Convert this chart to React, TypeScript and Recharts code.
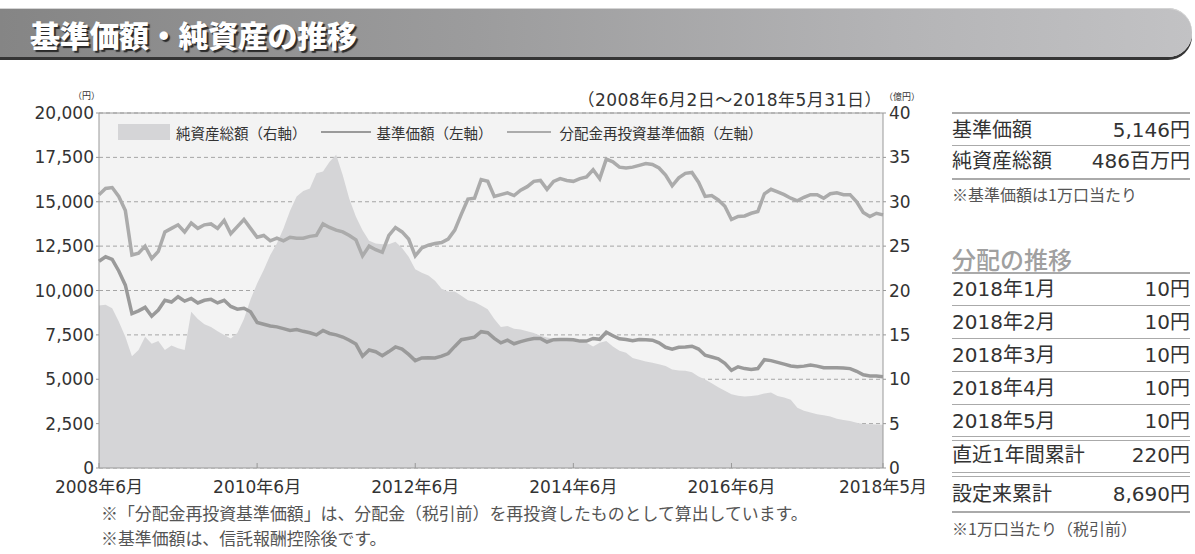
import { Area, CartesianGrid, ComposedChart, Line, ReferenceLine, XAxis, YAxis } from "recharts";

// month index 0 = 2008年6月, 119 = 2018年5月
const xTickIndex = [0, 24, 48, 72, 96, 119];
const xTickLabels = ["2008年6月", "2010年6月", "2012年6月", "2014年6月", "2016年6月", "2018年5月"];
const leftTicks = [0, 2500, 5000, 7500, 10000, 12500, 15000, 17500, 20000];
const rightTicks = [0, 5, 10, 15, 20, 25, 30, 35, 40];

// 基準価額 (円, left axis)
const navValues = [
    11650, 11900, 11750, 11100, 10300, 8700, 8850, 9050, 8550, 8900,
    9450, 9350, 9650, 9400, 9550, 9300, 9450, 9500, 9300, 9450,
    9100, 8950, 9000, 8800, 8200, 8100, 8000, 7950, 7850, 7750,
    7800, 7700, 7620, 7500, 7750, 7580, 7500, 7380, 7200, 6980,
    6300, 6650, 6550, 6330, 6560, 6820, 6700, 6400, 6050, 6200,
    6210, 6200, 6300, 6450, 6850, 7230, 7300, 7370, 7680, 7620,
    7300, 7050, 7200, 7000, 7120, 7220, 7300, 7300, 7100, 7230,
    7240, 7240, 7230, 7150, 7150, 7300, 7250, 7650, 7450, 7280,
    7240, 7170, 7240, 7230, 7200, 7050, 6800, 6700, 6800, 6820,
    6860, 6700, 6350, 6250, 6150, 5900, 5500, 5700, 5600, 5550,
    5600, 6100, 6050, 5950, 5850, 5750, 5700, 5740, 5800, 5740,
    5650, 5650, 5650, 5640, 5600, 5450, 5250, 5180, 5180, 5146,
];

// 分配金再投資基準価額 (円, left axis)
const reinvestValues = [
    15400, 15750, 15800, 15300, 14500, 12000, 12100, 12500, 11800, 12200,
    13300, 13500, 13700, 13300, 13800, 13500, 13700, 13750, 13500, 13950,
    13200, 13600, 14000, 13500, 13000, 13100, 12800, 12950, 12800, 13000,
    12950, 12950, 13050, 13100, 13750, 13550, 13400, 13300, 13100, 12850,
    11950, 12500, 12300, 12150, 13100, 13550, 13300, 12900, 11950, 12400,
    12550, 12650, 12700, 12900, 13400, 14300, 15150, 15200, 16250, 16150,
    15300, 15400, 15500, 15350, 15650, 15850, 16150, 16200, 15700, 16150,
    16300, 16200, 16150, 16300, 16400, 16800, 16300, 17400, 17250, 16950,
    16900, 16950, 17050, 17150, 17100, 16900, 16500, 15900, 16350, 16600,
    16650, 16100, 15300, 15350, 15100, 14750, 14000, 14170, 14200, 14350,
    14450, 15450, 15700, 15550, 15400, 15200, 15050, 15250, 15400, 15400,
    15200, 15450, 15500, 15400, 15400, 15000, 14400, 14170, 14350, 14260,
];

// 純資産総額 (億円, right axis)
const assetValues = [
    18.3, 18.4, 18.0, 16.5, 14.8, 12.6, 13.3, 14.8, 14.0, 14.3,
    13.3, 13.8, 13.5, 13.3, 17.6, 16.8, 16.2, 15.9, 15.4, 15.0,
    14.6, 15.2, 16.8, 19.0, 20.8, 22.3, 24.0, 25.3, 27.0, 29.0,
    30.6, 31.2, 31.5, 33.2, 33.4, 34.5, 35.3, 33.0, 30.3, 28.3,
    26.8, 25.6, 25.3, 25.2, 25.2, 25.5, 24.8, 23.8, 22.4, 22.0,
    21.7, 21.1, 20.2, 19.9, 19.9, 19.4, 18.9, 18.7, 18.3, 17.9,
    16.8, 15.9, 16.0, 15.7, 15.6, 15.4, 15.2, 14.9, 14.7, 14.6,
    14.5, 14.5, 14.5, 14.3, 14.1, 13.7, 14.1, 14.3, 13.7, 13.2,
    13.0, 12.4, 12.2, 12.0, 11.85, 11.7, 11.5, 11.1, 11.0, 10.95,
    10.8, 10.3, 9.98, 9.55, 9.1, 8.7, 8.3, 8.15, 8.05, 8.1,
    8.2, 8.4, 8.5, 8.1, 7.95, 7.7, 6.8, 6.45, 6.25, 6.05,
    5.95, 5.8, 5.55, 5.4, 5.3, 5.1, 4.95, 4.92, 4.9, 4.86,
];

const summaryRows = [
    ["基準価額", "5,146円"],
    ["純資産総額", "486百万円"],
];
const distributionRows = [
    ["2018年1月", "10円"],
    ["2018年2月", "10円"],
    ["2018年3月", "10円"],
    ["2018年4月", "10円"],
    ["2018年5月", "10円"],
];
const totalRows = [
    ["直近1年間累計", "220円"],
    ["設定来累計", "8,690円"],
];

const chartData = navValues.map((nav, i) => ({
    m: i,
    nav,
    reinvest: reinvestValues[i],
    assets: assetValues[i],
}));

const FONT = '"DejaVu Sans", "Noto Sans CJK JP", sans-serif';
const JP_FONT = '"Noto Sans CJK JP", sans-serif';
const TEXT = "#333";
const NAV_COLOR = "#9a9a9a";
const REINVEST_COLOR = "#ababab";
const AREA_COLOR = "#d5d5d7";

const XTick = ({ x, y, payload }: any) => (
    <g>
        <line x1={x} x2={x} y1={y} y2={y - 5} stroke="#999" />
        <text x={x} y={y + 25} textAnchor="middle" fontSize={17} fill={TEXT} fontFamily={FONT}>
            {xTickLabels[xTickIndex.indexOf(payload.value)]}
        </text>
    </g>
);

const Rule = ({ top, double = false, thick = false }: { top: number; double?: boolean; thick?: boolean }) => (
    <div
        style={{
            position: "absolute",
            left: 952,
            width: 238,
            top,
            height: double ? 3 : 0,
            borderTop: `${thick ? 2 : 1.5}px solid #aaa`,
            borderBottom: double ? "1.5px solid #aaa" : undefined,
        }}
    />
);

const Row = ({ center, label, value }: { center: number; label: string; value: string }) => (
    <div
        style={{
            position: "absolute",
            left: 952,
            width: 238,
            top: center - 12,
            height: 24,
            lineHeight: "24px",
            display: "flex",
            justifyContent: "space-between",
            fontSize: 20,
            color: TEXT,
            fontFamily: FONT,
            whiteSpace: "nowrap",
        }}
    >
        <span>{label}</span>
        <span>{value}</span>
    </div>
);

const Note = ({ top, left, size, children }: { top: number; left: number; size: number; children: string }) => (
    <div
        style={{
            position: "absolute",
            left,
            top,
            fontSize: size,
            lineHeight: `${size + 4}px`,
            color: "#555",
            fontFamily: JP_FONT,
            whiteSpace: "nowrap",
        }}
    >
        {children}
    </div>
);

export default function App() {
    return (
        <div style={{ position: "absolute", left: 0, top: 0, width: 1195, height: 554, background: "#fff", overflow: "hidden" }}>
            {/* title banner */}
            <div
                style={{
                    position: "absolute",
                    left: 0,
                    top: 8,
                    width: 1192,
                    height: 49,
                    background: "linear-gradient(to right, #858585, #9c9c9d 40%, #b4b4b6 75%, #c2c2c4)",
                    borderRadius: "0 24px 24px 0",
                    boxShadow: "0 3px 0 #353535, inset 0 1px 0 #d4d4d4",
                }}
            />
            <div
                style={{
                    position: "absolute",
                    left: 30,
                    top: 14,
                    fontSize: 30,
                    lineHeight: "40px",
                    fontWeight: 900,
                    color: "#fff",
                    fontFamily: JP_FONT,
                    letterSpacing: -0.3,
                    textShadow: "2px 2px 1px #2a2a2a",
                    whiteSpace: "nowrap",
                }}
            >
                基準価額・純資産の推移
            </div>

            <ComposedChart
                width={930}
                height={500}
                data={chartData}
                margin={{ top: 113, right: 0, left: 0, bottom: 2 }}
                style={{ position: "absolute", left: 0, top: 0 }}
            >
                <CartesianGrid
                    yAxisId="left"
                    vertical={false}
                    horizontal={true}
                    strokeDasharray="4 3"
                    stroke="#a5a5a5"
                    fill="#f3f3f3"
                    fillOpacity={1}
                />
                <XAxis
                    dataKey="m"
                    type="number"
                    domain={[0, 119]}
                    ticks={xTickIndex}
                    interval={0}
                    height={30}
                    tickLine={false}
                    tickSize={0}
                    tickMargin={0}
                    tick={<XTick />}
                    axisLine={{ stroke: "#999" }}
                />
                <YAxis
                    yAxisId="left"
                    domain={[0, 20000]}
                    ticks={leftTicks}
                    interval={0}
                    width={99}
                    tickSize={3}
                    tickMargin={2}
                    tickFormatter={(v: number) => v.toLocaleString("en-US")}
                    tick={{ fontSize: 17, fill: TEXT, fontFamily: FONT }}
                    tickLine={{ stroke: "#999" }}
                    axisLine={{ stroke: "#999" }}
                />
                <YAxis
                    yAxisId="right"
                    orientation="right"
                    domain={[0, 40]}
                    ticks={rightTicks}
                    interval={0}
                    width={47}
                    tickSize={3}
                    tickMargin={3}
                    tick={{ fontSize: 17, fill: TEXT, fontFamily: FONT, textAnchor: "start" }}
                    tickLine={{ stroke: "#999" }}
                    axisLine={{ stroke: "#999" }}
                />
                <Area
                    yAxisId="right"
                    dataKey="assets"
                    type="linear"
                    fill={AREA_COLOR}
                    fillOpacity={1}
                    stroke="none"
                    isAnimationActive={false}
                />
                <Line
                    yAxisId="left"
                    dataKey="nav"
                    type="linear"
                    stroke={NAV_COLOR}
                    strokeWidth={3.5}
                    dot={false}
                    isAnimationActive={false}
                />
                <Line
                    yAxisId="left"
                    dataKey="reinvest"
                    type="linear"
                    stroke={REINVEST_COLOR}
                    strokeWidth={3.5}
                    dot={false}
                    isAnimationActive={false}
                />
                <ReferenceLine yAxisId="left" y={20000} stroke="#999" strokeWidth={1} />
            </ComposedChart>

            {/* axis captions */}
            <div style={{ position: "absolute", left: 73, top: 89, fontSize: 9, color: TEXT, fontFamily: JP_FONT }}>（円）</div>
            <div style={{ position: "absolute", left: 884, top: 90, fontSize: 9, color: TEXT, fontFamily: JP_FONT }}>（億円）</div>
            <div
                style={{
                    position: "absolute",
                    right: 1195 - 882,
                    top: 89,
                    fontSize: 17,
                    lineHeight: "22px",
                    letterSpacing: 0.5,
                    color: TEXT,
                    fontFamily: FONT,
                    whiteSpace: "nowrap",
                }}
            >
                （2008年6月2日～2018年5月31日）
            </div>

            {/* legend */}
            <div
                style={{
                    position: "absolute",
                    left: 118,
                    top: 122,
                    height: 20,
                    display: "flex",
                    alignItems: "center",
                    fontSize: 14.5,
                    color: TEXT,
                    fontFamily: JP_FONT,
                    whiteSpace: "nowrap",
                }}
            >
                <span style={{ width: 52, height: 16, background: AREA_COLOR, marginRight: 6 }} />
                <span>純資産総額（右軸）</span>
                <span style={{ width: 50, height: 2, background: NAV_COLOR, margin: "0 6px 0 14px" }} />
                <span>基準価額（左軸）</span>
                <span style={{ width: 44, height: 2, background: REINVEST_COLOR, margin: "0 9px 0 14px" }} />
                <span>分配金再投資基準価額（左軸）</span>
            </div>

            {/* footnotes */}
            <Note top={503} left={101} size={16.9}>※「分配金再投資基準価額」は、分配金（税引前）を再投資したものとして算出しています。</Note>
            <Note top={528} left={101} size={16.9}>※基準価額は、信託報酬控除後です。</Note>

            {/* right panel */}
            <Rule top={112} thick />
            <Row center={130} label={summaryRows[0][0]} value={summaryRows[0][1]} />
            <Rule top={145} />
            <Row center={161} label={summaryRows[1][0]} value={summaryRows[1][1]} />
            <Rule top={178} thick />
            <Note top={184} left={952} size={16}>※基準価額は1万口当たり</Note>

            <div
                style={{
                    position: "absolute",
                    left: 952,
                    top: 243,
                    fontSize: 24,
                    lineHeight: "32px",
                    color: "#a0a0a0",
                    fontFamily: JP_FONT,
                    fontWeight: 500,
                }}
            >
                分配の推移
            </div>
            <Rule top={272} thick />
            {distributionRows.map((r, i) => (
                <div key={r[0]}>
                    <Row center={289 + i * 33} label={r[0]} value={r[1]} />
                    {i < distributionRows.length - 1 && <Rule top={305 + i * 33} />}
                </div>
            ))}
            <Rule top={436} double />
            <Row center={455} label={totalRows[0][0]} value={totalRows[0][1]} />
            <Rule top={472} double />
            <Row center={494} label={totalRows[1][0]} value={totalRows[1][1]} />
            <Rule top={511} thick />
            <Note top={518} left={952} size={16}>※1万口当たり（税引前）</Note>
        </div>
    );
}
